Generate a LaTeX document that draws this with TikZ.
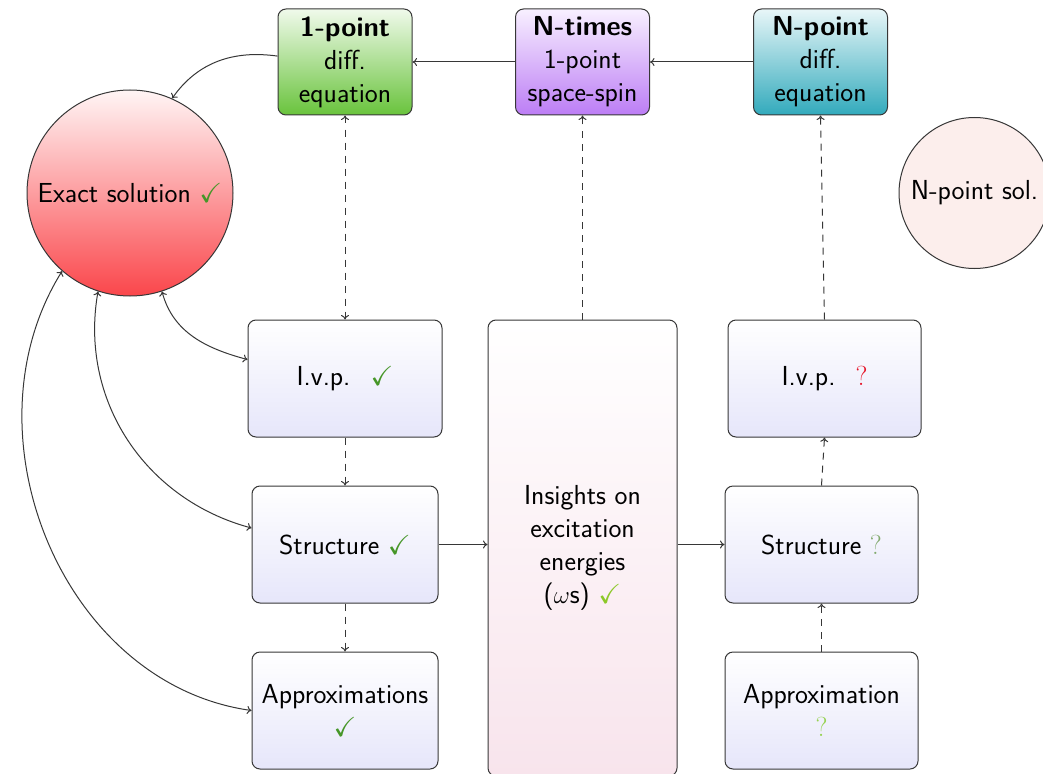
\documentclass[tikz,border=0pt]{standalone}
\usepackage{fontspec}
\usepackage{amssymb}
\usetikzlibrary{arrows.meta}
\definecolor{edgec}{RGB}{55,55,55}
\definecolor{greenb}{RGB}{105,195,60}
\definecolor{greent}{RGB}{240,250,235}
\definecolor{purpb}{RGB}{188,125,245}
\definecolor{purpt}{RGB}{248,240,255}
\definecolor{tealb}{RGB}{50,170,188}
\definecolor{tealt}{RGB}{232,246,248}
\definecolor{redb}{RGB}{250,70,75}
\definecolor{redt}{RGB}{255,245,245}
\definecolor{lavb}{RGB}{230,230,250}
\definecolor{pinkb}{RGB}{248,228,236}
\definecolor{solf}{RGB}{252,238,236}
\definecolor{ckgreen}{RGB}{70,150,40}
\definecolor{ckyellow}{RGB}{140,200,40}
\definecolor{qred}{RGB}{230,20,40}
\definecolor{qgray}{RGB}{130,170,110}
\definecolor{qlight}{RGB}{150,210,80}
\newcommand{\ck}[1][ckgreen]{\textcolor{#1}{$\checkmark$}}
\begin{document}
\begin{tikzpicture}[x=1pt,y=-1pt,
  >={To[length=4.5pt,width=8pt]},
  basebox/.style={draw=edgec, line width=1pt, rounded corners=8pt, align=center,
    inner sep=2pt, font=\sffamily\fontsize{27.5}{33}\selectfont},
  topbox/.style={basebox, minimum width=134pt, minimum height=106pt},
  lowbox/.style={basebox, top color=white, bottom color=lavb, minimum height=117pt},
  conn/.style={draw=edgec, line width=1pt},
  dconn/.style={conn, dash pattern=on 7pt off 6pt},
  circ/.style={circle, draw=edgec, line width=1pt, inner sep=0pt, align=center,
    font=\sffamily\fontsize{27.5}{33}\selectfont}
]
\useasboundingbox (0,0) rectangle (1043,773);

% top boxes
\node[topbox, top color=greent, bottom color=greenb] (onept) at (345,62)
  {\textbf{1-point}\\diff.\\equation};
\node[topbox, top color=purpt, bottom color=purpb] (ntimes) at (582.5,62)
  {\textbf{N-times}\\1-point\\space-spin};
\node[topbox, top color=tealt, bottom color=tealb] (npoint) at (820.5,62)
  {\textbf{N-point}\\diff.\\equation};

% circles
\node[circ, minimum size=206pt, top color=redt, bottom color=redb] (exact) at (130,193)
  {Exact solution \ck};
\node[circ, minimum size=151pt, fill=solf] (nsol) at (974.5,193) {N-point sol.};

% left column
\node[lowbox, minimum width=194pt] (ivpL) at (345,378.5) {I.v.p.~ \ck};
\node[lowbox, minimum width=186pt] (strL) at (345,544.5) {Structure \ck};
\node[lowbox, minimum width=186pt] (appL) at (345,710.5) {Approximations\\\ck};

% insights
\node[basebox, top color=white, bottom color=pinkb, minimum width=189pt, minimum height=456pt]
  (ins) at (582.5,548) {Insights on\\excitation\\energies\\($\omega$s) \ck[ckyellow]};

% right column
\node[lowbox, minimum width=193pt] (ivpR) at (824.5,378.5)
  {I.v.p.~ \textcolor{qred}{\textrm{?}}};
\node[lowbox, minimum width=193pt] (strR) at (821.5,544.5)
  {Structure \textcolor{qgray}{\textrm{?}}};
\node[lowbox, minimum width=193pt] (appR) at (821.5,710.5)
  {Approximation\\\textcolor{qlight}{\textrm{?}}};

% top solid connectors
\draw[conn,->] (npoint) -- (ntimes);
\draw[conn,->] (ntimes) -- (onept);
\draw[conn,->] (onept.175) to[out=172,in=55] (exact.66);

% dashed vertical connectors
\draw[dconn,<->] (onept) -- (ivpL);
\draw[dconn,->] (ivpL) -- (strL);
\draw[dconn,->] (strL) -- (appL);
\draw[dconn,->] (ins.north) -- (ntimes.south);
\draw[dconn,->] (ivpR.north) -- (npoint.south);
\draw[dconn,->] (strR.north) -- (ivpR.south);
\draw[dconn,->] (appR.north) -- (strR.south);

% horizontal solid connectors
\draw[conn,->] (strL) -- (ins.west |- strL);
\draw[conn,->] (ins.east |- strR) -- (strR);

% curved connectors from exact solution
\draw[conn,<->] (exact.-72) to[out=-75,in=165] (ivpL.169);
\draw[conn,<->] (exact.-108) to[out=-100,in=165] (strL.170);
\draw[conn,<->] (exact.-131) to[out=-122,in=172,looseness=1.02] (appL.west);
\end{tikzpicture}
\end{document}
